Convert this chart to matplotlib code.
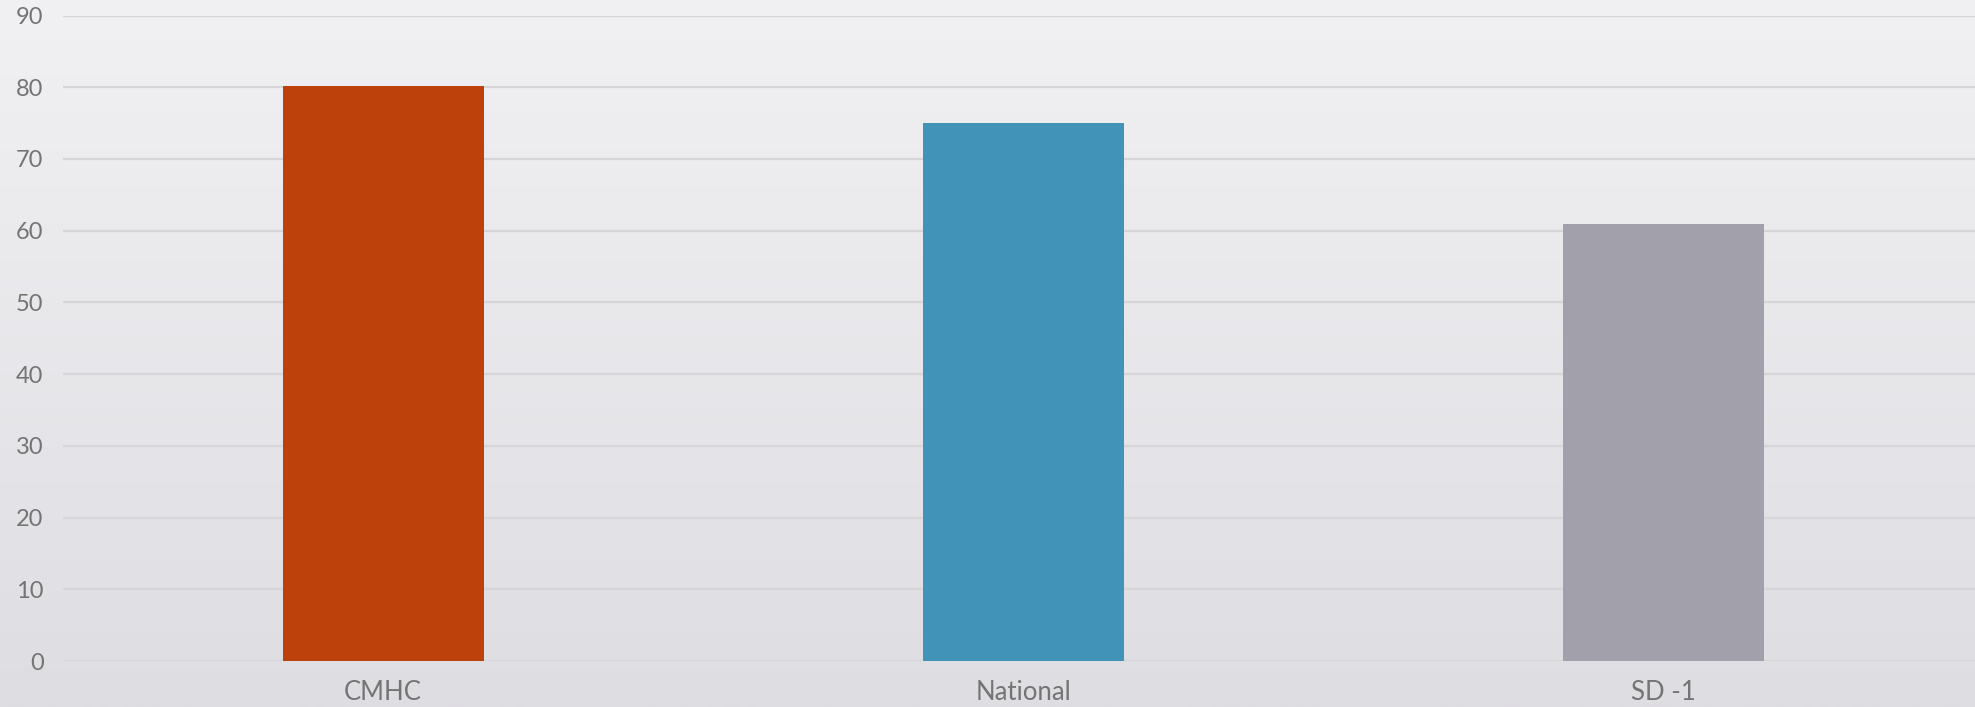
import matplotlib.pyplot as plt
import numpy as np
from matplotlib.colors import LinearSegmentedColormap

categories = ["CMHC", "National", "SD -1"]
values = [80.2, 75, 61]
colors = ["#bd410b", "#4293b8", "#a2a1ab"]
y_ticks = list(range(0, 100, 10))

fig = plt.figure(figsize=(19.75, 7.07), dpi=100)

# background gradient, light at top, slightly darker at bottom
bg = fig.add_axes([0, 0, 1, 1], zorder=-1)
grad = np.linspace(0, 1, 256).reshape(-1, 1)
cmap = LinearSegmentedColormap.from_list("bg", ["#f1f1f3", "#dedde2"])
bg.imshow(grad, aspect="auto", cmap=cmap, extent=[0, 1, 0, 1], origin="upper")
bg.axis("off")

ax = fig.add_axes([0.0319, 0.065, 0.9727, 0.913])
ax.patch.set_alpha(0)

x = np.arange(len(categories))
ax.bar(x, values, width=0.314, color=colors, linewidth=0, zorder=3)

ax.set_xlim(-0.5, 2.5)
ax.set_ylim(0, 90)
ax.set_yticks(y_ticks)
ax.set_xticks(x)
ax.set_xticklabels(categories)
ax.yaxis.grid(True, color="#d6d6d8", linewidth=1.6, zorder=0)
ax.set_axisbelow(True)

for s in ax.spines.values():
    s.set_visible(False)
ax.tick_params(axis="both", length=0, labelsize=17, labelcolor="#747474")
ax.tick_params(axis="y", pad=14)
ax.tick_params(axis="x", pad=14, labelsize=18.5)
for lbl in ax.get_xticklabels() + ax.get_yticklabels():
    lbl.set_fontfamily("Lato")

fig.savefig("out.png", dpi=100)
